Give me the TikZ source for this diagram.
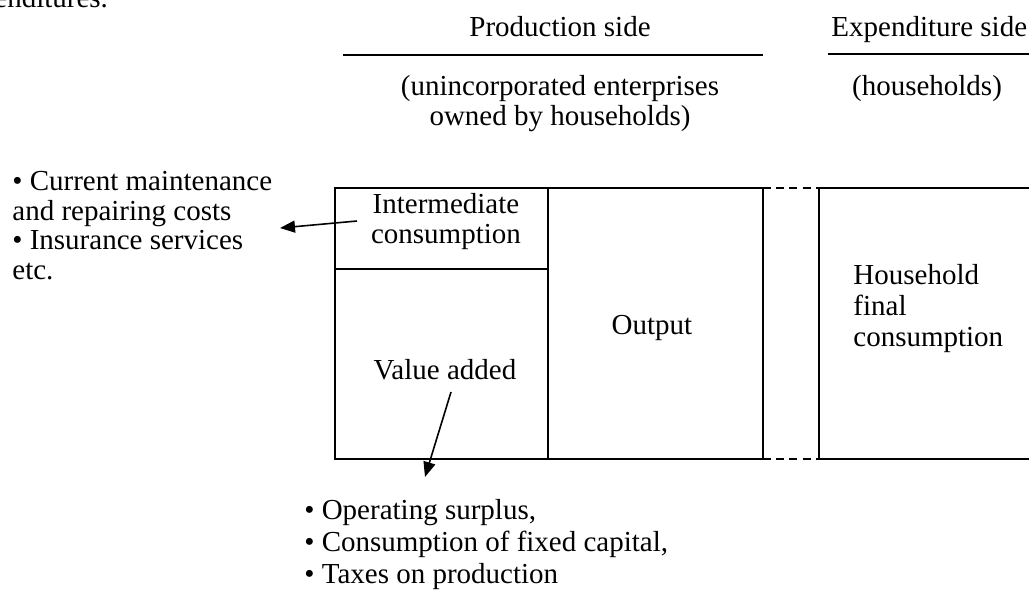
\documentclass[tikz,border=0pt]{standalone}
\usepackage{fontspec}
\setmainfont{Liberation Serif}
\usetikzlibrary{arrows.meta, positioning}
\tikzset{
  txt/.style={inner sep=0pt, font=\fontsize{14.5}{15.5}\selectfont},
  frame/.style={line width=1pt},
  gap/.style={line width=1pt, dash pattern=on 4pt off 2.6pt},
  pointer/.style={line width=0.8pt, -{Triangle[length=7.5pt,width=6pt]}},
}

\begin{document}
\begin{tikzpicture}[x=0.5pt, y=-0.5pt]
  \useasboundingbox (0,0) rectangle (1029,596);
  \clip (0,0) rectangle (1029,596);

  % ---------- cut-off line from the text above ----------
  \node[txt, anchor=base west] (cut) at (-6,7) {enditures.};

  % ---------- headings ----------
  \node[txt, anchor=base] (prod) at (560,36) {Production side};
  \node[txt, anchor=base west] (expd) at (831,36) {Expenditure side};
  \draw[frame] (343,55) -- (763,55);
  \draw[frame] (828,54) -- (1040,54);
  \node[txt, anchor=base] (unin) at (560,95) {(unincorporated enterprises};
  \node[txt, anchor=base] (owned) at (560,125) {owned by households)};
  \node[txt, anchor=base] (hh) at (927,95) {(households)};

  % ---------- boxes ----------
  \coordinate (nw) at (335,188);
  \coordinate (se) at (763,459);
  \coordinate (mid) at (548,188);
  \coordinate (rb) at (819,188);
  \draw[frame] (nw) rectangle (se);
  \draw[frame] (mid) -- (mid |- se);
  \draw[frame] (335,269) -- (548,269);
  \draw[gap] (se |- nw) -- (rb);
  \draw[gap] (se) -- (rb |- se);
  \draw[frame] (1040,188) -- (rb) -- (rb |- se) -- (1040,459);

  % ---------- box labels ----------
  \node[txt, anchor=base] (inter) at (446,213) {Intermediate};
  \node[txt, anchor=base] (cons) at (446,243) {consumption};
  \node[txt, anchor=base] (out) at (652,334) {Output};
  \node[txt, anchor=base] (va) at (445,379) {Value added};
  \node[txt, anchor=base west] (hf1) at (853,284) {Household};
  \node[txt, anchor=base west] (hf2) at (853,315) {final};
  \node[txt, anchor=base west] (hf3) at (853,346) {consumption};

  % ---------- notes ----------
  \node[txt, anchor=base west] (ic1) at (12,190) {• Current maintenance};
  \node[txt, anchor=base west] (ic2) at (12,220) {and repairing costs};
  \node[txt, anchor=base west] (ic3) at (12,249) {• Insurance services};
  \node[txt, anchor=base west] (ic4) at (12,279) {etc.};
  \node[txt, anchor=base west] (va1) at (304,519) {• Operating surplus,};
  \node[txt, anchor=base west] (va2) at (304,551) {• Consumption of fixed capital,};
  \node[txt, anchor=base west] (va3) at (304,583) {• Taxes on production};

  % ---------- arrows ----------
  \coordinate (icfrom) at (357,221);
  \coordinate (icto) at (280,228);
  \coordinate (vafrom) at (451,392);
  \coordinate (vato) at (425,477);
  \draw[pointer] (icfrom) -- (icto);
  \draw[pointer] (vafrom) -- (vato);

\end{tikzpicture}
\end{document}
